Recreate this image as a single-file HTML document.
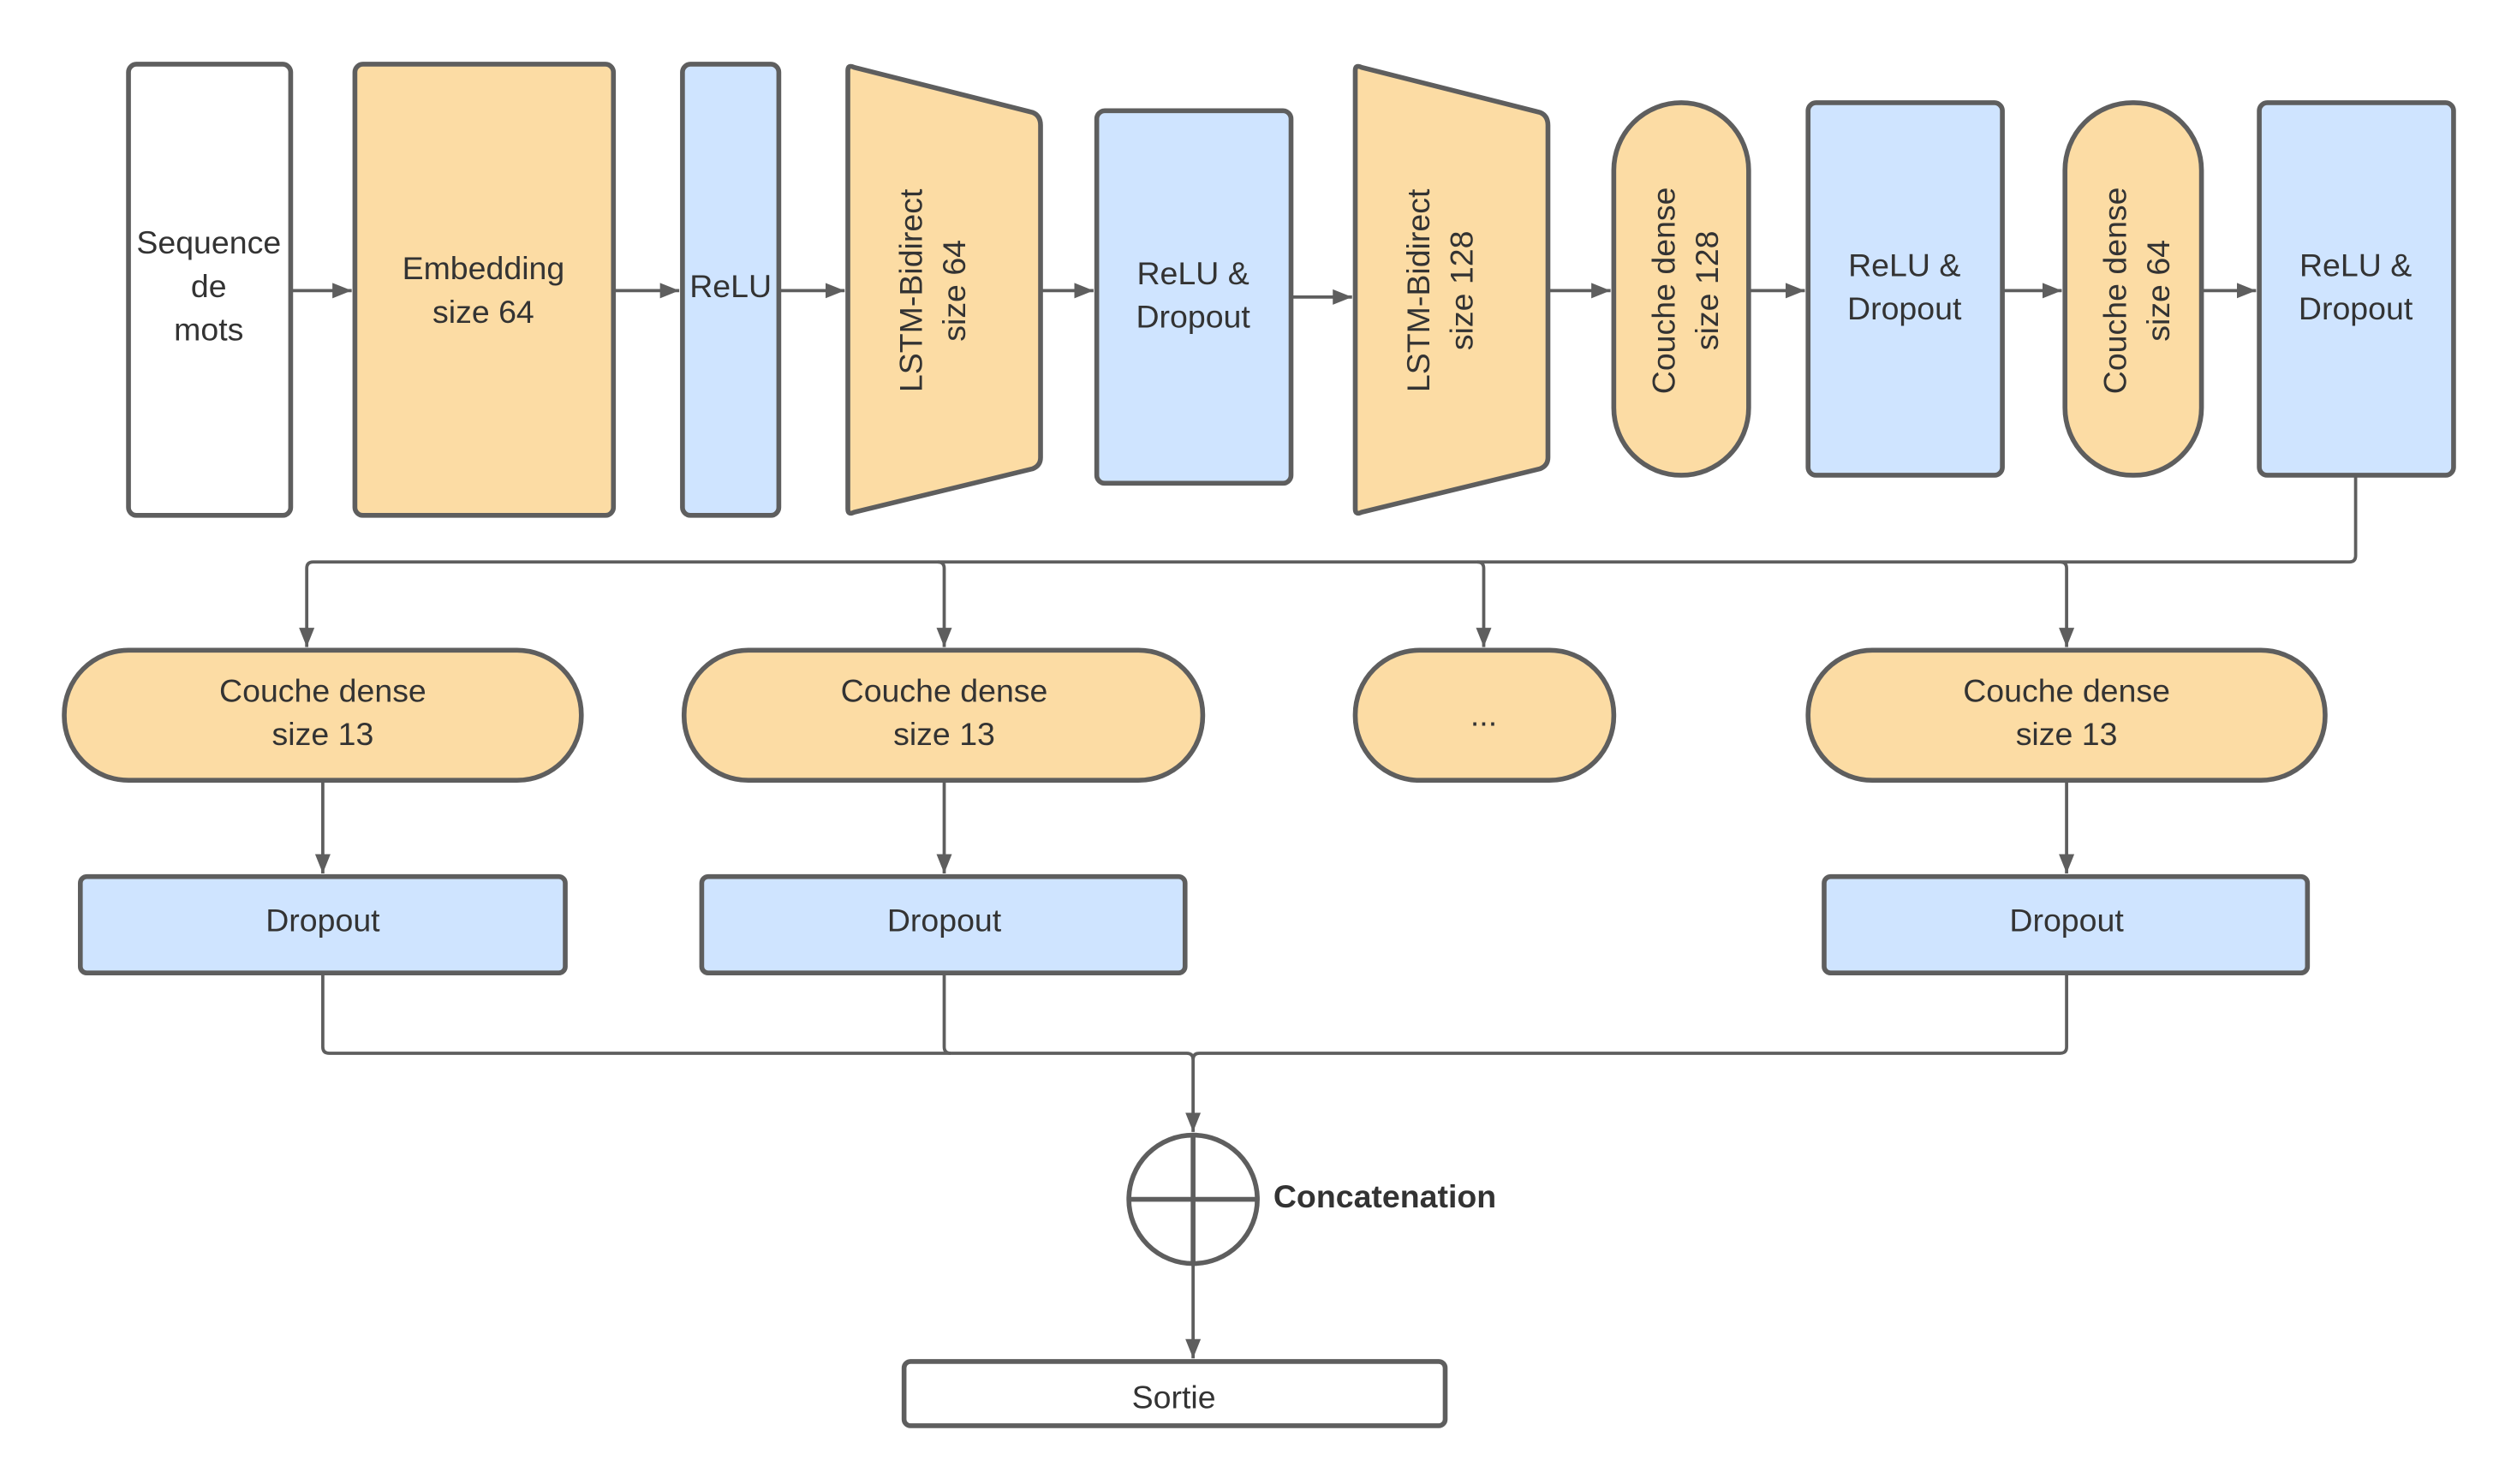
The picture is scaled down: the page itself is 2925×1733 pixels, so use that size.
<!DOCTYPE html>
<html><head><meta charset="utf-8"><style>
html,body{margin:0;padding:0;background:#fff;}
svg{display:block;}
text{font-family:"Liberation Sans",Arial,sans-serif;fill:#333;font-size:20px;}
</style></head><body>
<svg width="2925" height="1733" viewBox="0 0 1560 924.3" xmlns="http://www.w3.org/2000/svg">
<defs>
<marker id="a" viewBox="0 0 10 10" refX="10" refY="5" markerWidth="6" markerHeight="6" orient="auto" markerUnits="userSpaceOnUse">
<path d="M0,0 L10,5 L0,10 z" fill="#5e5e5e"/></marker>
<marker id="b" viewBox="0 0 10 10" refX="10" refY="5" markerWidth="12" markerHeight="12" orient="auto" markerUnits="userSpaceOnUse">
<path d="M0,1 L10,5 L0,9 z" fill="#5e5e5e"/></marker>
</defs>
<g stroke="#5e5e5e" stroke-width="3">
<rect x="80" y="40" width="101" height="281" rx="5" fill="#fff"/>
<rect x="221" y="40" width="161" height="281" rx="5" fill="#fcdca4"/>
<rect x="425" y="40" width="60" height="281" rx="5" fill="#cfe4ff"/>
<path d="M528,44 Q528,40 532,42 L643,70 Q648,72 648,78 L648,285 Q648,290 643,292 L532,319 Q528,321 528,317 Z" fill="#fcdca4"/>
<rect x="683" y="69" width="121" height="232" rx="5" fill="#cfe4ff"/>
<path d="M844,44 Q844,40 848,42 L959,70 Q964,72 964,78 L964,285 Q964,290 959,292 L848,319 Q844,321 844,317 Z" fill="#fcdca4"/>
<rect x="1005" y="64" width="84" height="232" rx="42" fill="#fcdca4"/>
<rect x="1126" y="64" width="121" height="232" rx="5" fill="#cfe4ff"/>
<rect x="1286" y="64" width="85" height="232" rx="42" fill="#fcdca4"/>
<rect x="1407" y="64" width="121" height="232" rx="5" fill="#cfe4ff"/>

<rect x="40" y="405" width="322" height="81" rx="40" fill="#fcdca4"/>
<rect x="426" y="405" width="323" height="81" rx="40" fill="#fcdca4"/>
<rect x="844" y="405" width="161" height="81" rx="40" fill="#fcdca4"/>
<rect x="1126" y="405" width="322" height="81" rx="40" fill="#fcdca4"/>

<rect x="50" y="546" width="302" height="60" rx="4" fill="#cfe4ff"/>
<rect x="437" y="546" width="301" height="60" rx="4" fill="#cfe4ff"/>
<rect x="1136" y="546" width="301" height="60" rx="4" fill="#cfe4ff"/>

<rect x="563" y="848" width="337" height="40" rx="4" fill="#fff"/>
<circle cx="743" cy="747" r="40" fill="#fff"/>
<line x1="703" y1="747" x2="783" y2="747"/>
</g>
<g stroke="#5e5e5e" stroke-width="2" fill="none">
<line x1="181" y1="181" x2="219" y2="181" marker-end="url(#b)"/>
<line x1="382" y1="181" x2="423" y2="181" marker-end="url(#b)"/>
<line x1="485" y1="181" x2="526" y2="181" marker-end="url(#b)"/>
<line x1="648" y1="181" x2="681" y2="181" marker-end="url(#b)"/>
<line x1="804" y1="185" x2="842" y2="185" marker-end="url(#b)"/>
<line x1="964" y1="181" x2="1003" y2="181" marker-end="url(#b)"/>
<line x1="1089" y1="181" x2="1124" y2="181" marker-end="url(#b)"/>
<line x1="1247" y1="181" x2="1284" y2="181" marker-end="url(#b)"/>
<line x1="1371" y1="181" x2="1405" y2="181" marker-end="url(#b)"/>
<path d="M1467,296 L1467,346 Q1467,350 1463,350 L195,350 Q191,350 191,354 L191,403" marker-end="url(#b)"/>
<path d="M584,350 Q588,350 588,354 L588,403" marker-end="url(#b)"/>
<path d="M920,350 Q924,350 924,354 L924,403" marker-end="url(#b)"/>
<path d="M1283,350 Q1287,350 1287,354 L1287,403" marker-end="url(#b)"/>
<line x1="201" y1="486" x2="201" y2="544" marker-end="url(#b)"/>
<line x1="588" y1="486" x2="588" y2="544" marker-end="url(#b)"/>
<line x1="1287" y1="486" x2="1287" y2="544" marker-end="url(#b)"/>
<path d="M201,606 L201,652 Q201,656 205,656 L739,656 Q743,656 743,660 L743,705" marker-end="url(#b)"/>
<path d="M588,606 L588,652 Q588,656 592,656"/>
<path d="M1287,606 L1287,652 Q1287,656 1283,656 L747,656 Q743,656 743,660"/>
<line x1="743" y1="707" x2="743" y2="787" stroke-width="3"/>
<line x1="743" y1="787" x2="743" y2="846" marker-end="url(#b)"/>
</g>
<g text-anchor="middle">
<text x="130" y="158">Sequence</text><text x="130" y="185">de</text><text x="130" y="212">mots</text>
<text x="301" y="174">Embedding</text><text x="301" y="201">size 64</text>
<text x="455" y="185">ReLU</text>
<text transform="translate(578,181) rotate(-90)" y="-4">LSTM-Bidirect</text>
<text transform="translate(578,181) rotate(-90)" y="23">size 64</text>
<text x="743" y="177">ReLU &amp;</text><text x="743" y="204">Dropout</text>
<text transform="translate(894,181) rotate(-90)" y="-4">LSTM-Bidirect</text>
<text transform="translate(894,181) rotate(-90)" y="23">size 128</text>
<text transform="translate(1047,181) rotate(-90)" y="-4">Couche dense</text>
<text transform="translate(1047,181) rotate(-90)" y="23">size 128</text>
<text x="1186" y="172">ReLU &amp;</text><text x="1186" y="199">Dropout</text>
<text transform="translate(1328,181) rotate(-90)" y="-4">Couche dense</text>
<text transform="translate(1328,181) rotate(-90)" y="23">size 64</text>
<text x="1467" y="172">ReLU &amp;</text><text x="1467" y="199">Dropout</text>
<text x="201" y="437">Couche dense</text><text x="201" y="464">size 13</text>
<text x="588" y="437">Couche dense</text><text x="588" y="464">size 13</text>
<text x="924" y="452">...</text>
<text x="1287" y="437">Couche dense</text><text x="1287" y="464">size 13</text>
<text x="201" y="580">Dropout</text>
<text x="588" y="580">Dropout</text>
<text x="1287" y="580">Dropout</text>
<text x="731" y="877">Sortie</text>
</g>
<text x="793" y="752" font-weight="bold">Concatenation</text>
</svg>
</body></html>
